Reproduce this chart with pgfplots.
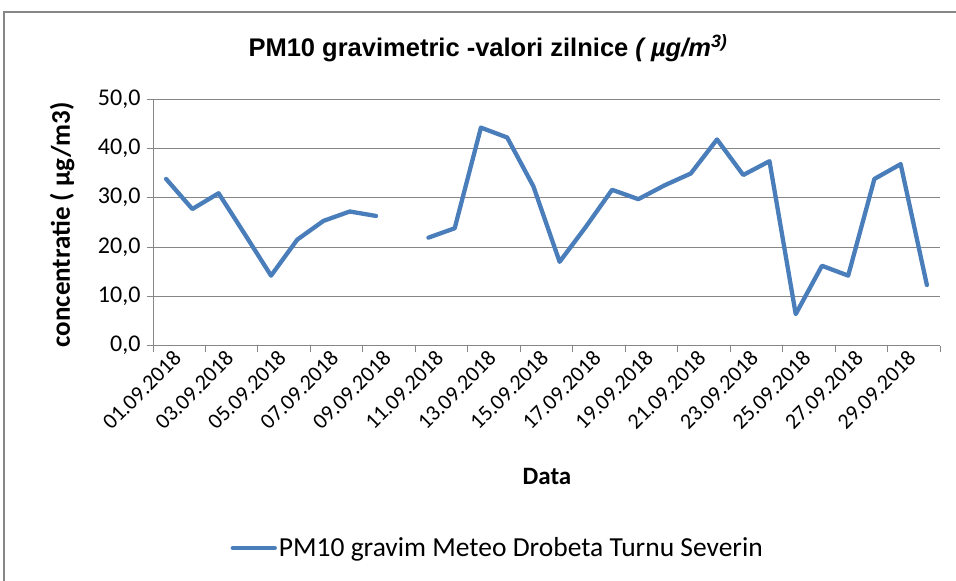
\documentclass[border=0pt]{standalone}
\usepackage{pgfplots}
\pgfplotsset{compat=1.18}
\usepackage{fontspec}
\setmainfont{Carlito}
\newfontfamily\arial{Liberation Sans}
\definecolor{exblue}{RGB}{74,126,187}
\definecolor{gridc}{RGB}{134,134,134}
\pgfplotstableread{
x y
1 33.8
2 27.7
3 30.9
4 22.6
5 14.2
6 21.5
7 25.3
8 27.2
9 26.3
10 nan
11 21.9
12 23.8
13 44.2
14 42.2
15 32.3
16 17.0
17 24.1
18 31.6
19 29.7
20 32.5
21 34.9
22 41.8
23 34.6
24 37.4
25 6.4
26 16.2
27 14.2
28 33.8
29 36.8
30 12.3
}\pmdata
\begin{document}
\begin{tikzpicture}[x=1pt,y=1pt]
\path[use as bounding box] (0,0) rectangle (956,581);
\draw[gridc, line width=1.5pt] (4,-20) -- (4,569) -- (990,569);
\node[font=\arial\bfseries\fontsize{25.5}{29}\selectfont] at (488,533) {PM10 gravimetric -valori zilnice \textit{( µg/m\textsuperscript{3)}}};
\begin{axis}[
  at={(153pt,235.3pt)}, anchor=south west,
  scale only axis, width=787pt, height=246.7pt,
  xmin=0.5, xmax=30.5, ymin=0, ymax=50,
  axis x line*=bottom, axis y line*=left,
  axis line style={gridc, line width=1pt, -},
  tick align=outside, major tick length=6pt,
  tick style={gridc, line width=1pt},
  ytick={0,10,...,50},
  ymajorgrids, grid style={gridc, line width=1pt},
  xtick={0.5,2.5,...,30.5}, xticklabels={},
  extra x ticks={1,3,...,29},
  extra x tick labels={01.09.2018,03.09.2018,05.09.2018,07.09.2018,09.09.2018,11.09.2018,13.09.2018,15.09.2018,17.09.2018,19.09.2018,21.09.2018,23.09.2018,25.09.2018,27.09.2018,29.09.2018},
  extra x tick style={major tick length=0pt, grid=none, tick label style={rotate=45, anchor=north east, font=\fontsize{22}{25}\selectfont, xshift=5pt, yshift=-3pt}},
  y tick label style={font=\fontsize{24}{28}\selectfont, xshift=-3pt},
  /pgf/number format/.cd, fixed, fixed zerofill, precision=1, use comma, assume math mode=true,
  /pgfplots/.cd,
  xlabel={Data},
  xlabel style={at={(axis description cs:0.5006,-0.532)}, anchor=center, font=\bfseries\fontsize{25}{29}\selectfont},
  ylabel={concentratie ( µg/m3)},
  ylabel style={at={(axis description cs:-0.1156,0.49)}, anchor=center, rotate=0, font=\bfseries\fontsize{27}{31}\selectfont},
  unbounded coords=jump,
  legend style={at={(axis description cs:0.438,-0.82)}, anchor=center, draw=none, fill=none, font=\fontsize{27.5}{31}\selectfont},
  legend image code/.code={\draw[#1, line cap=round] (0pt,0pt) -- (42pt,0pt);},
]
\addplot[exblue, line width=4.3pt, line join=round, line cap=round] table[x=x,y=y] {\pmdata};
\addlegendentry{PM10 gravim Meteo Drobeta Turnu Severin}
\end{axis}
\end{tikzpicture}
\end{document}
